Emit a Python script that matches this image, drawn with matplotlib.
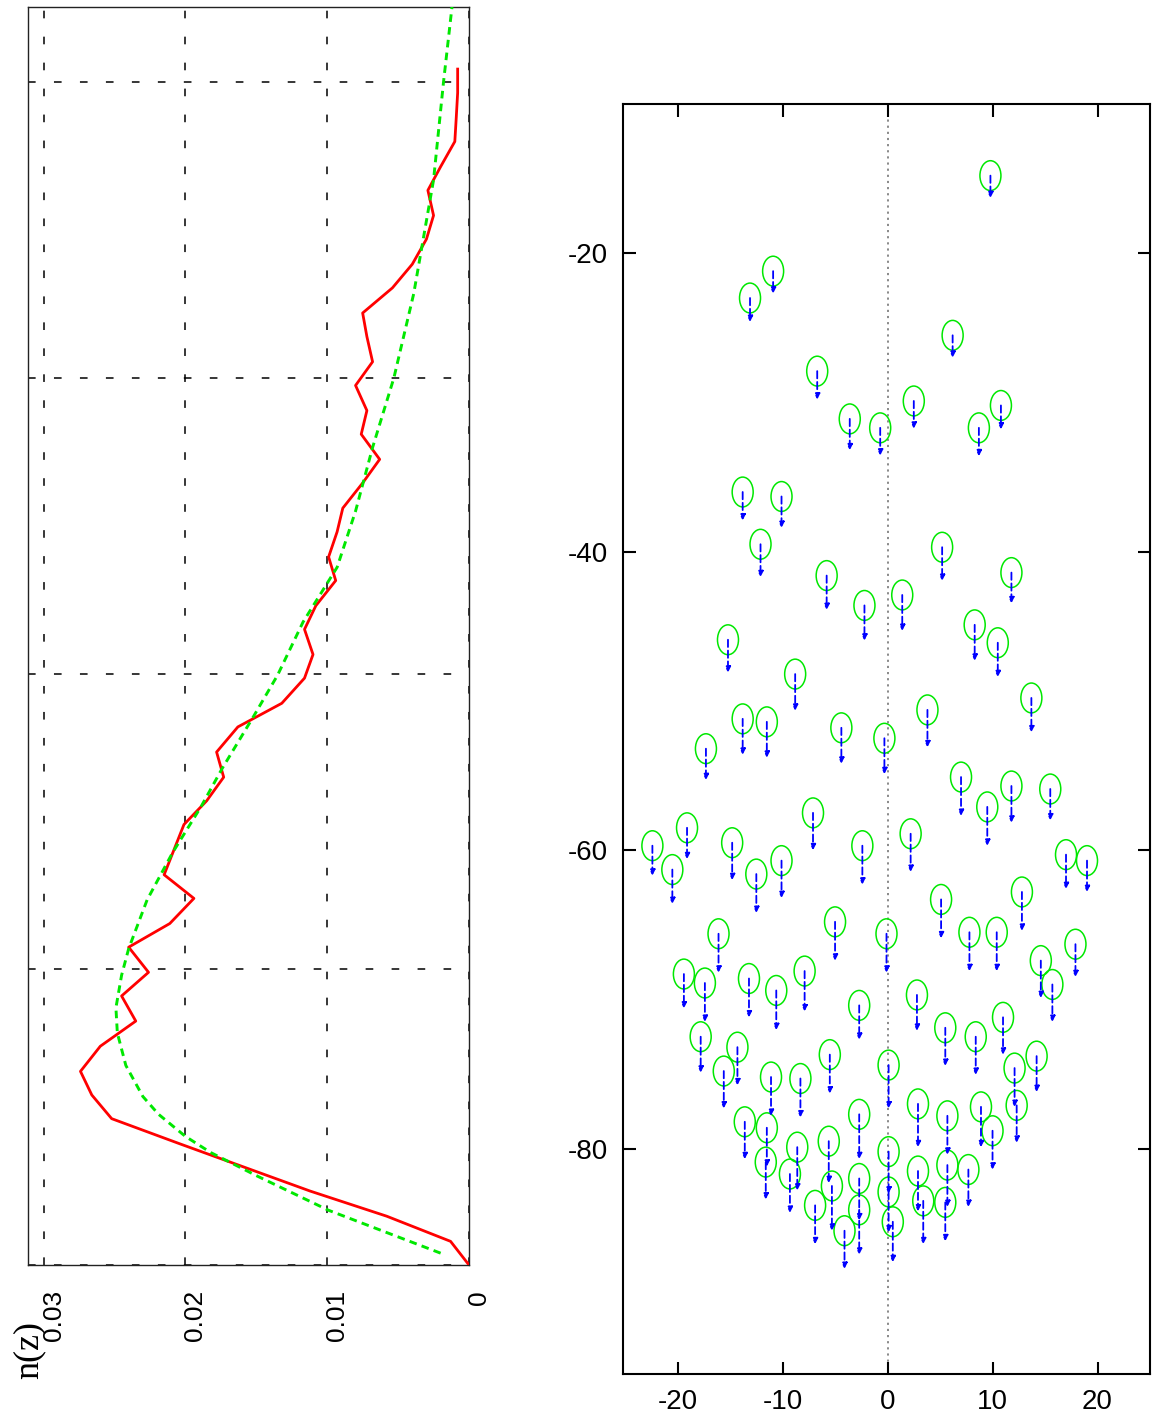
import matplotlib
matplotlib.use("Agg")
import matplotlib.pyplot as plt
import matplotlib.transforms as mtransforms
from matplotlib.patches import Ellipse

# ---- left panel: number density profile n(z) ----
z_obs = [0.0, 1.6, 3.3, 5.0, 6.6, 8.2, 9.9, 11.5, 13.1, 14.8, 16.5, 18.2, 19.8,
         21.5, 23.1, 24.8, 26.4, 28.1, 29.8, 31.4, 33.0, 34.7, 36.4, 38.0, 39.7,
         41.3, 43.0, 44.6, 46.3, 47.9, 49.6, 51.2, 52.9, 54.5, 56.2, 57.8, 59.5,
         61.1, 62.8, 64.4, 66.1, 67.7, 69.4, 71.0, 72.7, 74.3, 76.0, 77.6, 79.3, 80.9]
n_obs = [0.0, 0.0013, 0.0058, 0.0112, 0.0158, 0.0204, 0.0252, 0.0266, 0.0274,
         0.0260, 0.0235, 0.0245, 0.0226, 0.0240, 0.0211, 0.0194, 0.0215, 0.0208,
         0.0201, 0.0185, 0.0173, 0.0178, 0.0163, 0.0132, 0.0116, 0.0110, 0.0116,
         0.0108, 0.0094, 0.0099, 0.0093, 0.0089, 0.0075, 0.0063, 0.0076, 0.0072,
         0.0080, 0.0068, 0.0072, 0.0075, 0.0054, 0.0040, 0.0030, 0.0025, 0.0029,
         0.0020, 0.0010, 0.0009, 0.0008, 0.0008]

z_fit = [0.8, 3.7, 6.0, 7.6, 8.7, 10.2, 11.4, 13.5, 15.7, 17.4, 19.6, 21.4, 24.7,
         27.9, 31.0, 33.6, 37.1, 39.9, 43.5, 47.2, 51.0, 55.3, 60.0, 65.7, 73.4,
         80.0, 85.1]
n_fit = [0.0020, 0.0099, 0.0149, 0.0182, 0.0200, 0.0219, 0.0230, 0.0242, 0.0248,
         0.0249, 0.0245, 0.0240, 0.0227, 0.0209, 0.0189, 0.0174, 0.0152, 0.0135,
         0.0117, 0.0093, 0.0080, 0.0068, 0.0053, 0.0039, 0.0025, 0.0018, 0.0012]

n_ticks = [0.03, 0.02, 0.01, 0.0]
n_labels = ["0.03", "0.02", "0.01", "0"]
z_grid = [0, 20, 40, 60, 80]

# ---- right panel: positions with downward displacement arrows ----
px = [9.8, -10.9, -13.1, 6.2, -6.7, 2.5, 10.8, -3.6, -0.7, 8.7,
      -13.8, -10.1, -12.1, 5.2, -5.8, 11.8, -2.2, 1.4, 8.3, 10.5,
      -15.2, -8.8, 13.7, 3.8, -13.8, -11.5, -4.4, -0.3, -17.3, 7.0,
      11.8, 9.5, -7.1, 15.5, -19.1, -22.4, -14.8, -2.4, 2.2, -10.1,
      -20.5, -12.5, 17.0, 19.0, 12.8, 5.1, -5.0, -16.1, -0.1, 7.8,
      10.4, 17.9, 14.6, -19.4, -17.4, -13.2, -7.9, -10.6, 15.7, 2.8,
      -2.7, 11.0, 5.5, 8.4, -17.8, -14.3, -5.5, 14.2, 0.1, 12.1,
      -15.6, -11.1, -8.3, 2.9, 8.9, 12.3, -2.7, 5.7, -13.6, -11.5,
      10.0, -8.6, -5.6, 0.1, -11.6, 5.7, 2.9, 7.7, -9.3, -2.7,
      -5.3, 0.1, 3.4, 5.5, -6.9, -2.7, 0.5, -4.1]
py = [-14.8, -21.2, -23.0, -25.5, -27.9, -29.9, -30.2, -31.1, -31.7, -31.7,
      -36.0, -36.3, -39.5, -39.7, -41.6, -41.4, -43.6, -42.9, -44.9, -46.1,
      -45.9, -48.2, -49.8, -50.6, -51.2, -51.4, -51.8, -52.5, -53.2, -55.1,
      -55.7, -57.1, -57.5, -55.9, -58.5, -59.7, -59.5, -59.7, -58.9, -60.7,
      -61.3, -61.6, -60.3, -60.7, -62.8, -63.3, -64.8, -65.6, -65.6, -65.5,
      -65.5, -66.3, -67.4, -68.3, -68.9, -68.6, -68.1, -69.4, -69.0, -69.7,
      -70.4, -71.2, -71.9, -72.5, -72.5, -73.2, -73.7, -73.8, -74.4, -74.6,
      -74.8, -75.2, -75.3, -77.0, -77.2, -77.1, -77.7, -77.8, -78.2, -78.6,
      -78.8, -79.9, -79.5, -80.2, -80.9, -81.1, -81.5, -81.4, -81.7, -82.0,
      -82.5, -82.9, -83.5, -83.6, -83.8, -84.1, -84.9, -85.5]
dz = [1.5, 1.5, 1.6, 1.5, 1.9, 1.85, 1.6, 2.1, 1.85, 1.9,
      1.9, 2.1, 2.2, 2.25, 2.3, 2.05, 2.35, 2.4, 2.4, 2.3,
      2.2, 2.45, 2.3, 2.5, 2.4, 2.4, 2.4, 2.4, 2.1, 2.6,
      2.45, 2.6, 2.5, 2.1, 2.1, 2.0, 2.5, 2.6, 2.55, 2.5,
      2.3, 2.6, 2.3, 2.1, 2.6, 2.6, 2.6, 2.6, 2.6, 2.6,
      2.6, 2.2, 2.5, 2.3, 2.6, 2.6, 2.7, 2.65, 2.5, 2.4,
      2.3, 2.5, 2.55, 2.55, 2.4, 2.55, 2.6, 2.4, 2.9, 2.6,
      2.5, 2.6, 2.6, 2.9, 2.7, 2.5, 3.0, 2.6, 2.5, 2.6,
      2.6, 2.9, 2.8, 2.8, 2.5, 2.8, 2.7, 2.5, 2.6, 2.8,
      3.0, 2.7, 2.9, 2.6, 2.6, 3.0, 2.7, 2.55]

x_ticks = [-20, -10, 0, 10, 20]
y_ticks = [-20, -40, -60, -80]

RED = "#ff0000"
GREEN = "#00e800"
BLUE = "#0000ff"

W, H = 1152, 1423
fig = plt.figure(figsize=(W / 100, H / 100), dpi=100)


def frac(x0, y0, x1, y1):
    return [x0 / W, 1 - y1 / H, (x1 - x0) / W, (y1 - y0) / H]


# ---------------- left panel ----------------
axL = fig.add_axes(frac(28, 7, 469, 1265))
axL.set_xlim(0.0311, 0.0)
axL.set_ylim(0, 85.1)
axL.plot(n_obs, z_obs, color=RED, lw=2.0, solid_joinstyle="round", zorder=3)
axL.plot(n_fit, z_fit, color=GREEN, lw=2.1, dashes=(2.6, 1.8), zorder=4)

grid_kw = dict(color="black", lw=1.1, dashes=(5, 12), zorder=1)
for v in n_ticks:
    axL.axvline(v, **grid_kw)
for v in z_grid:
    axL.axhline(v, **grid_kw)

axL.set_xticks(n_ticks)
axL.set_xticklabels(n_labels, rotation=90, va="top", ha="center",
                    family="Liberation Sans", fontsize=19)
axL.tick_params(axis="x", length=0, pad=18)
shift = mtransforms.ScaledTranslation(10 / 100, 0, fig.dpi_scale_trans)
for lab in axL.get_xticklabels():
    lab.set_transform(lab.get_transform() + shift)
axL.set_yticks([])
for s in axL.spines.values():
    s.set_linewidth(1.0)
    s.set_color("#222222")

fig.text(29 / W, 1 - 1350 / H, "n(z)", rotation=90, ha="center", va="center",
         family="Liberation Serif", fontsize=26)

# ---------------- right panel ----------------
axR = fig.add_axes(frac(623, 104, 1150, 1374))
axR.set_xlim(-25.2, 25.0)
axR.set_ylim(-95.1, -10.0)
axR.axvline(0, color="#808080", lw=1.3, ls=(0, (1.2, 2.2)), zorder=1)

for x, y, d in zip(px, py, dz):
    axR.add_patch(Ellipse((x, y), 2.0, 2.0, fill=False, ec=GREEN, lw=1.1, zorder=3))
    axR.annotate("", xy=(x, y - d), xytext=(x, y),
                 arrowprops=dict(arrowstyle="-|>", color=BLUE, lw=1.3,
                                 linestyle=(0, (4, 2)), shrinkA=0, shrinkB=0,
                                 mutation_scale=8), zorder=4)

axR.set_xticks(x_ticks)
axR.set_yticks(y_ticks)
axR.set_xticklabels([str(v) for v in x_ticks], family="Liberation Sans", fontsize=20)
axR.set_yticklabels([str(v) for v in y_ticks], family="Liberation Sans", fontsize=20)
axR.tick_params(direction="in", length=9, width=1.5, top=True, right=True,
                pad=11)
for s in axR.spines.values():
    s.set_linewidth(1.5)

fig.savefig("out.png", dpi=100, facecolor="white")
